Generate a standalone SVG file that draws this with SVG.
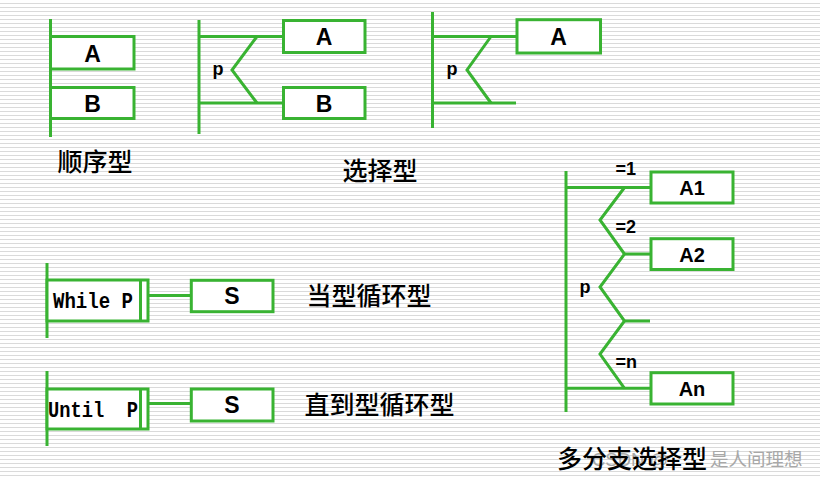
<svg xmlns="http://www.w3.org/2000/svg" width="820" height="479" viewBox="0 0 820 479">
<defs>
<pattern id="stripes" x="0" y="0" width="8" height="4" patternUnits="userSpaceOnUse">
<rect x="0" y="3" width="8" height="1" fill="#dadada"/>
</pattern>
<style>
.ln{stroke:#39b332;stroke-width:3;fill:none;stroke-linecap:butt;stroke-linejoin:miter}
.box{stroke:#39b332;stroke-width:3;fill:#ffffff}
.lbl{font-family:"Liberation Sans",Arial,sans-serif;font-weight:bold;fill:#000;text-anchor:middle}
.big{font-size:23px}
.mid{font-size:20px}
.sm{font-family:"Liberation Sans",Arial,sans-serif;font-weight:bold;fill:#000;font-size:18px}
.mono{font-family:"Liberation Mono","Courier New",monospace;font-weight:bold;font-size:22px;fill:#000;white-space:pre}
.cjk{font-family:"Noto Sans CJK SC","Noto Sans",sans-serif;font-weight:500;font-size:25px;fill:#000}
.wm{font-family:"Liberation Sans","Noto Sans CJK SC",sans-serif;font-size:18.5px;fill:#a8a8a8}
</style>
</defs>
<rect x="0" y="0" width="820" height="479" fill="#ffffff"/>
<rect x="0" y="0" width="820" height="479" fill="url(#stripes)"/>

<g id="connectors">
<line class="ln" x1="50.5" y1="19" x2="50.5" y2="137"/>
<line class="ln" x1="199" y1="20" x2="199" y2="134"/>
<line class="ln" x1="199" y1="36.5" x2="283.5" y2="36.5"/>
<line class="ln" x1="199" y1="103" x2="283.5" y2="103"/>
<polyline class="ln" points="257,36.5 232,70 257,103"/>
<line class="ln" x1="432.5" y1="12" x2="432.5" y2="128"/>
<line class="ln" x1="432.5" y1="36.5" x2="517" y2="36.5"/>
<line class="ln" x1="432.5" y1="103" x2="516" y2="103"/>
<polyline class="ln" points="491,36.5 467,70 491,103"/>
<line class="ln" x1="47" y1="263" x2="47" y2="338"/>
<line class="ln" x1="148" y1="295.5" x2="191" y2="295.5"/>
<line class="ln" x1="47" y1="371" x2="47" y2="446"/>
<line class="ln" x1="148" y1="403.5" x2="191" y2="403.5"/>
<line class="ln" x1="566" y1="171" x2="566" y2="412"/>
<line class="ln" x1="566" y1="187.5" x2="651" y2="187.5"/>
<line class="ln" x1="624.5" y1="254" x2="651" y2="254"/>
<line class="ln" x1="624.5" y1="321" x2="650" y2="321"/>
<line class="ln" x1="566" y1="388.3" x2="651" y2="388.3"/>
<polyline class="ln" points="624.5,187.5 600,220 624.5,254 600,287 624.5,321 600,354 624.5,388.3"/>
</g>

<g id="seq-A">
<rect class="box" x="50.5" y="36.5" width="83.5" height="32.5"/>
<text class="lbl big" x="92.5" y="61.5">A</text>
</g>
<g id="seq-B">
<rect class="box" x="50.5" y="87.5" width="83.5" height="31"/>
<text class="lbl big" x="92.5" y="111.5">B</text>
</g>
<text class="cjk" x="57.5" y="171">顺序型</text>

<g id="sel-A">
<rect class="box" x="283.5" y="20.5" width="81.5" height="32"/>
<text class="lbl big" x="324" y="45">A</text>
</g>
<g id="sel-B">
<rect class="box" x="283.5" y="87.5" width="81.5" height="31"/>
<text class="lbl big" x="324" y="112">B</text>
</g>
<text class="sm" x="212.5" y="74.5" font-size="17">p</text>

<g id="sel2-A">
<rect class="box" x="517" y="19.7" width="83.5" height="33.3"/>
<text class="lbl big" x="558.5" y="44.5">A</text>
</g>
<text class="sm" x="446.5" y="74.5" font-size="17">p</text>
<text class="cjk" x="342.5" y="179.5">选择型</text>

<g id="while-cond">
<rect class="box" x="47" y="280" width="101" height="41"/>
<line class="ln" x1="140.5" y1="280" x2="140.5" y2="321"/>
<text class="mono" x="53" y="308.3" textLength="80" lengthAdjust="spacingAndGlyphs">While P</text>
</g>
<g id="while-S">
<rect class="box" x="191.3" y="280.3" width="81.7" height="31.4"/>
<text class="lbl big" x="232" y="304">S</text>
</g>
<text class="cjk" x="306.5" y="305">当型循环型</text>

<g id="until-cond">
<rect class="box" x="47" y="389" width="101" height="40"/>
<line class="ln" x1="140.5" y1="389" x2="140.5" y2="429"/>
<text class="mono" x="48" y="416.5" textLength="90" lengthAdjust="spacingAndGlyphs" xml:space="preserve">Until  P</text>
</g>
<g id="until-S">
<rect class="box" x="191.3" y="389" width="81.7" height="32"/>
<text class="lbl big" x="232" y="413">S</text>
</g>
<text class="cjk" x="304.5" y="413.5">直到型循环型</text>

<g id="multi-A1">
<rect class="box" x="651" y="172" width="82" height="31"/>
<text class="lbl mid" x="692" y="194.5">A1</text>
</g>
<g id="multi-A2">
<rect class="box" x="651" y="238.7" width="82" height="30.8"/>
<text class="lbl mid" x="692" y="261.5">A2</text>
</g>
<g id="multi-An">
<rect class="box" x="651" y="372.7" width="82" height="31.3"/>
<text class="lbl mid" x="692" y="395.5">An</text>
</g>
<text class="sm" x="615.5" y="175">=1</text>
<text class="sm" x="615.5" y="233">=2</text>
<text class="sm" x="615.5" y="368">=n</text>
<text class="sm" x="579.5" y="292.5" font-size="19">p</text>

<text class="wm" x="592" y="466">CSDN @</text>
<text class="wm" x="710" y="466">是人间理想</text>
<text class="cjk" x="557" y="468">多分支选择型</text>
</svg>
